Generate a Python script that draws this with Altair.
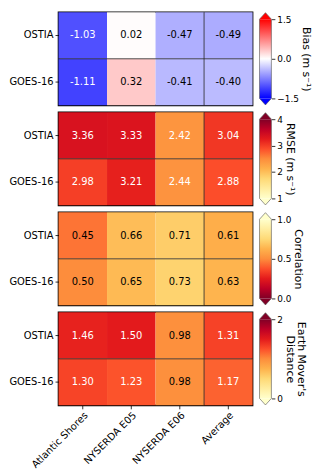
import altair as alt
import pandas as pd

models = ["OSTIA", "GOES-16"]
sites = ["Atlantic Shores", "NYSERDA E05", "NYSERDA E06", "Average"]

bias_ostia = [-1.03, 0.02, -0.47, -0.49]
bias_goes = [-1.11, 0.32, -0.41, -0.40]
rmse_ostia = [3.36, 3.33, 2.42, 3.04]
rmse_goes = [2.98, 3.21, 2.44, 2.88]
corr_ostia = [0.45, 0.66, 0.71, 0.61]
corr_goes = [0.50, 0.65, 0.73, 0.63]
emd_ostia = [1.46, 1.50, 0.98, 1.31]
emd_goes = [1.30, 1.23, 0.98, 1.17]

bias_lim = [-1.5, 1.5]
rmse_lim = [1, 4]
corr_lim = [0, 1]
emd_lim = [0, 2]
bias_ticks = [-1.5, 0, 1.5]
rmse_ticks = [1, 2, 3, 4]
corr_ticks = [0, 0.5, 1]
emd_ticks = [0, 1, 2]

YLORRD = ["#ffffcc", "#ffeda0", "#fed976", "#feb24c", "#fd8d3c",
          "#fc4e2a", "#e31a1c", "#bd0026", "#800026"]
BWR = ["#0000ff", "#ffffff", "#ff0000"]

W, H = 196, 94
CBW = 12
FONT = "DejaVu Sans"


def make_scale(lo, hi, colors):
    n = len(colors)
    dom = [lo + (hi - lo) * i / (n - 1) for i in range(n)]
    return alt.Scale(domain=dom, range=colors, interpolate="rgb")


def panel(ostia, goes, lim, colors, ticks, fmt, title, white_test, show_x):
    lo, hi = lim
    df = pd.DataFrame({
        "model": [m for m in models for _ in sites],
        "site": sites * 2,
        "value": ostia + goes,
    })
    scale = make_scale(lo, hi, colors)
    if show_x:
        xaxis = alt.Axis(labelAngle=-45, labelAlign="right", labelBaseline="top",
                         labelFontSize=10, labelColor="black", tickColor="black",
                         tickSize=3.5, tickWidth=0.8, labelPadding=1, domain=False,
                         labelLimit=200)
    else:
        xaxis = None
    yaxis = alt.Axis(labelFontSize=10, labelColor="black", tickColor="black",
                     tickSize=3.5, tickWidth=0.8, labelPadding=2, domain=False)

    def X(bp=None):
        if bp is None:
            return alt.X("site:N", sort=sites, title=None, axis=xaxis)
        return alt.X("site:N", sort=sites, title=None, axis=xaxis, bandPosition=bp)

    def Y(bp=None):
        if bp is None:
            return alt.Y("model:N", sort=models, title=None, axis=yaxis)
        return alt.Y("model:N", sort=models, title=None, axis=yaxis, bandPosition=bp)

    base = alt.Chart(df)
    cells = base.mark_rect().encode(
        x=X(), y=Y(),
        color=alt.Color("value:Q", scale=scale, legend=None),
    )
    labels = base.transform_calculate(
        label="replace(format(datum.value, '.2f'), '\u2212', '-')"
    ).mark_text(fontSize=10, font=FONT).encode(
        x=X(), y=Y(), text="label:N",
        color=alt.condition(white_test, alt.value("white"), alt.value("black")),
    )
    hline = base.transform_filter(
        "datum.model == 'GOES-16' && datum.site == 'Average'"
    ).mark_rule(color="#222222", strokeWidth=0.8).encode(
        y=Y(0), x=alt.value(0), x2=alt.value(W)
    )
    vline = base.transform_filter(
        "datum.model == 'OSTIA' && datum.site == 'Average'"
    ).mark_rule(color="#222222", strokeWidth=0.8).encode(
        x=X(0), y=alt.value(0), y2=alt.value(H)
    )
    heat = alt.layer(cells, labels, hline, vline).properties(
        width=W, height=H,
        view=alt.ViewBackground(stroke="black", strokeWidth=1.6),
    )

    # colorbar
    cb_df = pd.DataFrame({"lo": [lo], "hi": [hi]})
    ysc = alt.Scale(domain=[lo, hi], range=[H - 7, 7], nice=False, zero=False)
    cbaxis = alt.Axis(orient="right", values=ticks, format=fmt, title=title,
                      domain=False, grid=False, tickColor="black", tickSize=3.5,
                      tickWidth=0.8, labelFontSize=9, labelColor="black",
                      labelPadding=2, titleFontSize=11, titleFontWeight="normal",
                      titleColor="black", titlePadding=2, titleFont=FONT,
                      titleLineHeight=11)
    n = len(colors)
    stops = [alt.GradientStop(offset=i / (n - 1), color=c) for i, c in enumerate(colors)]
    cbb = alt.Chart(cb_df)
    grad = cbb.mark_rect(
        fill=alt.Gradient(gradient="linear", stops=stops, x1=0, x2=0, y1=1, y2=0)
    ).encode(
        y=alt.Y("lo:Q", scale=ysc, axis=cbaxis), y2="hi:Q",
        x=alt.value(0), x2=alt.value(CBW),
    )
    top = cbb.mark_point(shape="M -1 0 L 0 -1.1 L 1 0 Z", size=CBW * CBW,
                         filled=True, opacity=1).encode(
        y=alt.Y("hi:Q", scale=ysc, axis=cbaxis), x=alt.value(CBW / 2),
        color=alt.Color("hi:Q", scale=scale, legend=None),
    )
    bot = cbb.mark_point(shape="M -1 0 L 0 1.1 L 1 0 Z", size=CBW * CBW,
                         filled=True, opacity=1).encode(
        y=alt.Y("lo:Q", scale=ysc, axis=cbaxis), x=alt.value(CBW / 2),
        color=alt.Color("lo:Q", scale=scale, legend=None),
    )
    top_o = cbb.mark_point(shape="M -1 0 L 0 -1.1 L 1 0", size=CBW * CBW,
                           filled=False, opacity=1, color="#555555",
                           strokeWidth=0.6, strokeJoin="round").encode(
        y=alt.Y("hi:Q", scale=ysc, axis=cbaxis), x=alt.value(CBW / 2))
    bot_o = cbb.mark_point(shape="M -1 0 L 0 1.1 L 1 0", size=CBW * CBW,
                           filled=False, opacity=1, color="#555555",
                           strokeWidth=0.6, strokeJoin="round").encode(
        y=alt.Y("lo:Q", scale=ysc, axis=cbaxis), x=alt.value(CBW / 2))
    left_o = cbb.mark_rule(color="#555555", strokeWidth=0.6).encode(
        y=alt.Y("lo:Q", scale=ysc, axis=cbaxis), y2="hi:Q", x=alt.value(0))
    right_o = cbb.mark_rule(color="#555555", strokeWidth=0.6).encode(
        y=alt.Y("lo:Q", scale=ysc, axis=cbaxis), y2="hi:Q", x=alt.value(CBW))
    cb = alt.layer(grad, top, bot, top_o, bot_o, left_o, right_o).properties(
        width=CBW, height=H
    ).resolve_scale(color="shared")

    return alt.hconcat(heat, cb, spacing=4).resolve_scale(
        color="independent", x="independent", y="independent")


rows = [
    panel(bias_ostia, bias_goes, bias_lim, BWR, bias_ticks, ".1f",
          "Bias (m s\u207b\u00b9)", "abs(datum.value) > 0.8", False),
    panel(rmse_ostia, rmse_goes, rmse_lim, YLORRD, rmse_ticks, "d",
          "RMSE (m s\u207b\u00b9)", "datum.value > 2.0", False),
    panel(corr_ostia, corr_goes, corr_lim, YLORRD[::-1], corr_ticks, ".1f",
          "Correlation", "datum.value < 0.25", False),
    panel(emd_ostia, emd_goes, emd_lim, YLORRD, emd_ticks, "d",
          ["Earth Mover's", "Distance"], "datum.value > 1.1", True),
]

chart = alt.vconcat(*rows, spacing=3).resolve_scale(
    color="independent", x="independent", y="independent"
).properties(
    padding={"left": 0, "top": 0, "right": 0, "bottom": 0}
).configure(font=FONT).configure_view(stroke=None)

chart.save("out.html", embed_options={"renderer": "svg", "actions": False})
